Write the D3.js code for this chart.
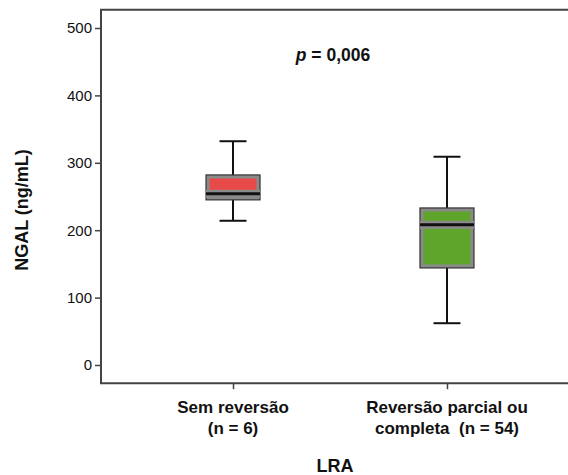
<!DOCTYPE html>
<html><head><meta charset="utf-8">
<script src="https://cdn.jsdelivr.net/npm/d3@7"></script>
<style>body{margin:0;background:#fff}svg{display:block}text{font-family:"Liberation Sans",Arial,sans-serif}</style>
</head><body>
<svg id="c" width="568" height="475"></svg>
<script>
const categories = ["Sem reversão", "Reversão parcial ou completa"];
const catLines = [["Sem reversão", "(n = 6)"], ["Reversão parcial ou", "completa  (n = 54)"]];
const mins = [214, 62];
const q1s = [245, 144];
const medians = [254, 208];
const q3s = [282, 233];
const maxs = [332, 309];
const fills = ["#E84A4A", "#5FA52B"];
const yTicks = [0, 100, 200, 300, 400, 500];

const svg = d3.select("#c");
const y = d3.scaleLinear().domain([0, 500]).range([365, 28]);
const x = d3.scalePoint().domain(categories).range([101, 579]).padding(0.617);

const frameTop = y(527), frameBot = y(-27), frameL = 101, frameR = 570;
svg.append("path").attr("d", `M${frameR},${frameTop}H${frameL}V${frameBot}H${frameR}`)
  .attr("fill", "none").attr("stroke", "#444").attr("stroke-width", 2);

const yAxis = d3.axisLeft(y).tickValues(yTicks).tickSize(6).tickPadding(3);
const gy = svg.append("g").attr("transform", `translate(${frameL},0)`).call(yAxis);
gy.select(".domain").remove();
gy.selectAll("line").attr("stroke", "#444").attr("stroke-width", 1.5);
gy.selectAll("text").attr("font-size", 15).attr("fill", "#111");

const xAxis = d3.axisBottom(x).tickSize(6).tickFormat("");
const gx = svg.append("g").attr("transform", `translate(0,${frameBot})`).call(xAxis);
gx.select(".domain").remove();
gx.selectAll("line").attr("stroke", "#444").attr("stroke-width", 1.5);

categories.forEach((c, i) => {
  const t = svg.append("text").attr("text-anchor", "middle").attr("font-size", 17)
    .attr("font-weight", "bold").attr("fill", "#111");
  catLines[i].forEach((l, j) => {
    t.append("tspan").attr("x", x(c)).attr("y", 413 + j * 21).attr("xml:space", "preserve").text(l);
  });
});

svg.append("text").attr("x", 335).attr("y", 472).attr("text-anchor", "middle")
  .attr("font-size", 18).attr("font-weight", "bold").attr("fill", "#111").text("LRA");
svg.append("text").attr("transform", `translate(28,210) rotate(-90)`).attr("text-anchor", "middle")
  .attr("font-size", 18).attr("font-weight", "bold").attr("fill", "#111").text("NGAL (ng/mL)");

const pt = svg.append("text").attr("x", 333).attr("y", 61).attr("text-anchor", "middle")
  .attr("font-size", 17.5).attr("font-weight", "bold").attr("fill", "#111");
pt.append("tspan").attr("font-style", "italic").text("p");
pt.append("tspan").text(" = 0,006");

const bw = 54, cw = 27;
categories.forEach((c, i) => {
  const cx = x(c);
  const g = svg.append("g");
  g.append("line").attr("x1", cx).attr("x2", cx).attr("y1", y(maxs[i])).attr("y2", y(q3s[i]))
    .attr("stroke", "#111").attr("stroke-width", 2);
  g.append("line").attr("x1", cx).attr("x2", cx).attr("y1", y(q1s[i])).attr("y2", y(mins[i]))
    .attr("stroke", "#111").attr("stroke-width", 2);
  [maxs[i], mins[i]].forEach(v => g.append("line").attr("x1", cx - cw / 2).attr("x2", cx + cw / 2)
    .attr("y1", y(v)).attr("y2", y(v)).attr("stroke", "#111").attr("stroke-width", 2));
  g.append("rect").attr("x", cx - bw / 2).attr("y", y(q3s[i])).attr("width", bw)
    .attr("height", y(q1s[i]) - y(q3s[i])).attr("fill", "#8a8a8a").attr("stroke", "#333").attr("stroke-width", 1.2);
  g.append("rect").attr("x", cx - bw / 2 + 3.5).attr("y", y(q3s[i]) + 3.5).attr("width", bw - 7)
    .attr("height", Math.max(0, y(q1s[i]) - y(q3s[i]) - 7)).attr("fill", fills[i]);
  g.append("rect").attr("x", cx - bw / 2).attr("y", y(medians[i]) - 4).attr("width", bw).attr("height", 8)
    .attr("fill", "#8a8a8a");
  g.append("line").attr("x1", cx - bw / 2).attr("x2", cx + bw / 2).attr("y1", y(medians[i])).attr("y2", y(medians[i]))
    .attr("stroke", "#111").attr("stroke-width", 3);
});
</script>
</body></html>
